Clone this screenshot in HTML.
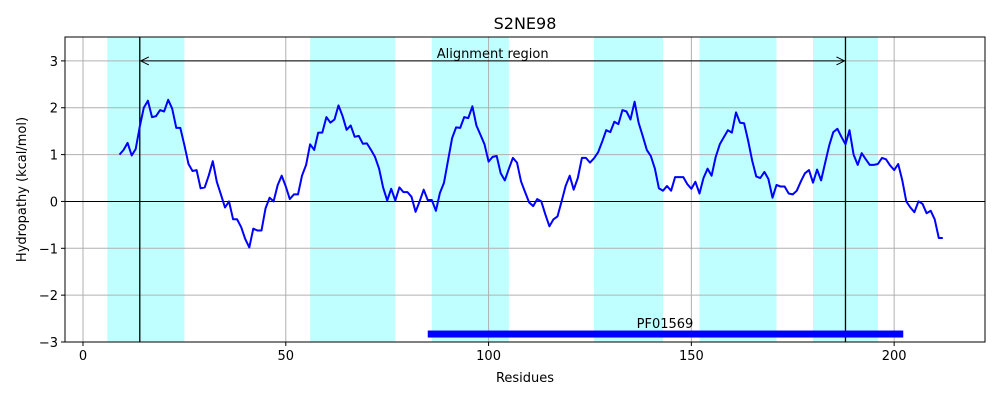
<!DOCTYPE html>
<html><head><meta charset="utf-8"><style>
body{margin:0;background:#fff;font-family:"Liberation Sans","DejaVu Sans",sans-serif}
svg text{font-family:"DejaVu Sans","Liberation Sans",sans-serif;fill:#000}
</style></head><body>
<svg id="chart" width="1000" height="400" viewBox="0 0 1000 400">
<g id="bg"></g><g id="grid"></g><g id="marks"></g><g id="axes"></g>
</svg>
<script>
const startResidue = 9;
const hydropathy = [1.0,1.1,1.25,0.98,1.12,1.6,2.0,2.15,1.8,1.82,1.95,1.92,2.17,1.98,1.57,1.57,1.2,0.8,0.65,0.67,0.28,0.3,0.55,0.86,0.42,0.15,-0.13,0.0,-0.38,-0.38,-0.55,-0.8,-0.98,-0.58,-0.62,-0.62,-0.15,0.08,0.0,0.35,0.55,0.32,0.05,0.15,0.15,0.55,0.78,1.22,1.1,1.47,1.47,1.8,1.68,1.75,2.05,1.82,1.53,1.62,1.38,1.4,1.23,1.24,1.1,0.95,0.7,0.3,0.02,0.27,0.02,0.3,0.2,0.2,0.1,-0.22,0.0,0.25,0.03,0.03,-0.2,0.18,0.4,0.87,1.35,1.58,1.57,1.8,1.78,2.03,1.62,1.42,1.22,0.85,0.95,0.97,0.6,0.45,0.7,0.93,0.83,0.43,0.2,-0.02,-0.1,0.05,0.0,-0.28,-0.53,-0.38,-0.32,0.0,0.33,0.55,0.25,0.5,0.93,0.93,0.83,0.92,1.05,1.27,1.52,1.48,1.7,1.65,1.95,1.92,1.75,2.13,1.68,1.4,1.1,0.97,0.7,0.28,0.23,0.33,0.23,0.52,0.52,0.52,0.37,0.27,0.42,0.17,0.5,0.7,0.55,0.95,1.22,1.37,1.52,1.47,1.9,1.68,1.67,1.3,0.87,0.53,0.5,0.63,0.48,0.08,0.35,0.32,0.32,0.17,0.15,0.23,0.43,0.6,0.67,0.4,0.68,0.45,0.83,1.2,1.48,1.55,1.38,1.22,1.52,1.0,0.78,1.03,0.9,0.78,0.78,0.8,0.93,0.9,0.77,0.67,0.8,0.45,0.0,-0.13,-0.23,0.0,-0.05,-0.25,-0.2,-0.38,-0.78,-0.78];
const tmStarts = [6,56,86,126,152,180];
const tmEnds = [25,77,105,143,171,196];
const alignStart = 14, alignEnd = 188;
const domainStart = 85, domainEnd = 202, domainY = -2.83;
const xTicks = [0,50,100,150,200];
const yTicks = [-3,-2,-1,0,1,2,3];

const L=65,R=985,T=37,B=342;
const xMin=-4.44,xMax=222.4,yMin=-3.0,yMax=3.51;
const X=v=>L+(v-xMin)/(xMax-xMin)*(R-L);
const Y=v=>B-(v-yMin)/(yMax-yMin)*(B-T);
const NS="http://www.w3.org/2000/svg";
function mk(parent,tag,attrs){const e=document.createElementNS(NS,tag);for(const k in attrs)e.setAttribute(k,attrs[k]);document.getElementById(parent).appendChild(e);return e;}

tmStarts.forEach((s,i)=>{
  const r=mk('bg','rect',{x:X(s),y:T,width:X(tmEnds[i])-X(s),height:B-T,fill:'#bfffff'});
  
  
});
xTicks.forEach(t=>{
  const l=mk('grid','line',{x1:X(t),x2:X(t),y1:T,y2:B,stroke:'#b0b0b0','stroke-width':1});
  
  
  const tk=mk('axes','line',{x1:X(t),x2:X(t),y1:B,y2:B+4,stroke:'#000'});
  
  
  const tx=mk('axes','text',{x:X(t),y:B+18,'text-anchor':'middle','font-size':13});
  tx.textContent=t;
  
  
});
yTicks.forEach(t=>{
  const l=mk('grid','line',{x1:L,x2:R,y1:Y(t),y2:Y(t),stroke:'#b0b0b0','stroke-width':1});
  
  
  const tk=mk('axes','line',{x1:L-4,x2:L,y1:Y(t),y2:Y(t),stroke:'#000'});
  
  
  const tx=mk('axes','text',{x:L-7,y:Y(t)+5,'text-anchor':'end','font-size':13});
  tx.textContent=(t<0?'\u2212'+(-t):t);
  
  
});
const zl=mk('marks','line',{x1:L,x2:R,y1:Y(0),y2:Y(0),stroke:'#000','stroke-width':1});


[alignStart,alignEnd].forEach(a=>{
  const v=mk('marks','line',{x1:X(a),x2:X(a),y1:T,y2:B,stroke:'#000','stroke-width':1.3});
  
  
});
const pts=hydropathy.map((v,i)=>X(startResidue+i).toFixed(1)+','+Y(v).toFixed(1)).join(' ');
const pl=mk('marks','polyline',{points:pts,fill:'none',stroke:'#0000ff','stroke-width':2,'stroke-linejoin':'round'});


const ay=Y(3);
const ar=mk('marks','line',{x1:X(alignStart)+2,x2:X(alignEnd)-2,y1:ay,y2:ay,stroke:'#000','stroke-width':1});


const h1=mk('marks','path',{d:`M${X(alignStart)+9},${ay-4} L${X(alignStart)+1},${ay} L${X(alignStart)+9},${ay+4}`,fill:'none',stroke:'#000'});


const h2=mk('marks','path',{d:`M${X(alignEnd)-9},${ay-4} L${X(alignEnd)-1},${ay} L${X(alignEnd)-9},${ay+4}`,fill:'none',stroke:'#000'});


const at=mk('marks','text',{x:(X(alignStart)+X(alignEnd))/2,y:ay-3,'text-anchor':'middle','font-size':13});
at.textContent='Alignment region';


const db=mk('marks','rect',{x:X(domainStart),y:Y(domainY)-3.5,width:X(domainEnd)-X(domainStart)+1,height:7,fill:'#0000ff'});


const dt=mk('marks','text',{x:665,y:328,'text-anchor':'middle','font-size':13});
dt.textContent='PF01569';


const fr=mk('axes','rect',{x:L,y:T,width:R-L,height:B-T,fill:'none',stroke:'#000','stroke-width':1});


const ti=mk('axes','text',{x:(L+R)/2,y:29,'text-anchor':'middle','font-size':16});
ti.textContent='S2NE98';


const xl=mk('axes','text',{x:(L+R)/2,y:382,'text-anchor':'middle','font-size':13});
xl.textContent='Residues';


const yl=mk('axes','text',{x:0,y:0,'text-anchor':'middle','font-size':13,transform:`translate(26,${(T+B)/2}) rotate(-90)`});
yl.textContent='Hydropathy (kcal/mol)';


</script>
</body></html>
